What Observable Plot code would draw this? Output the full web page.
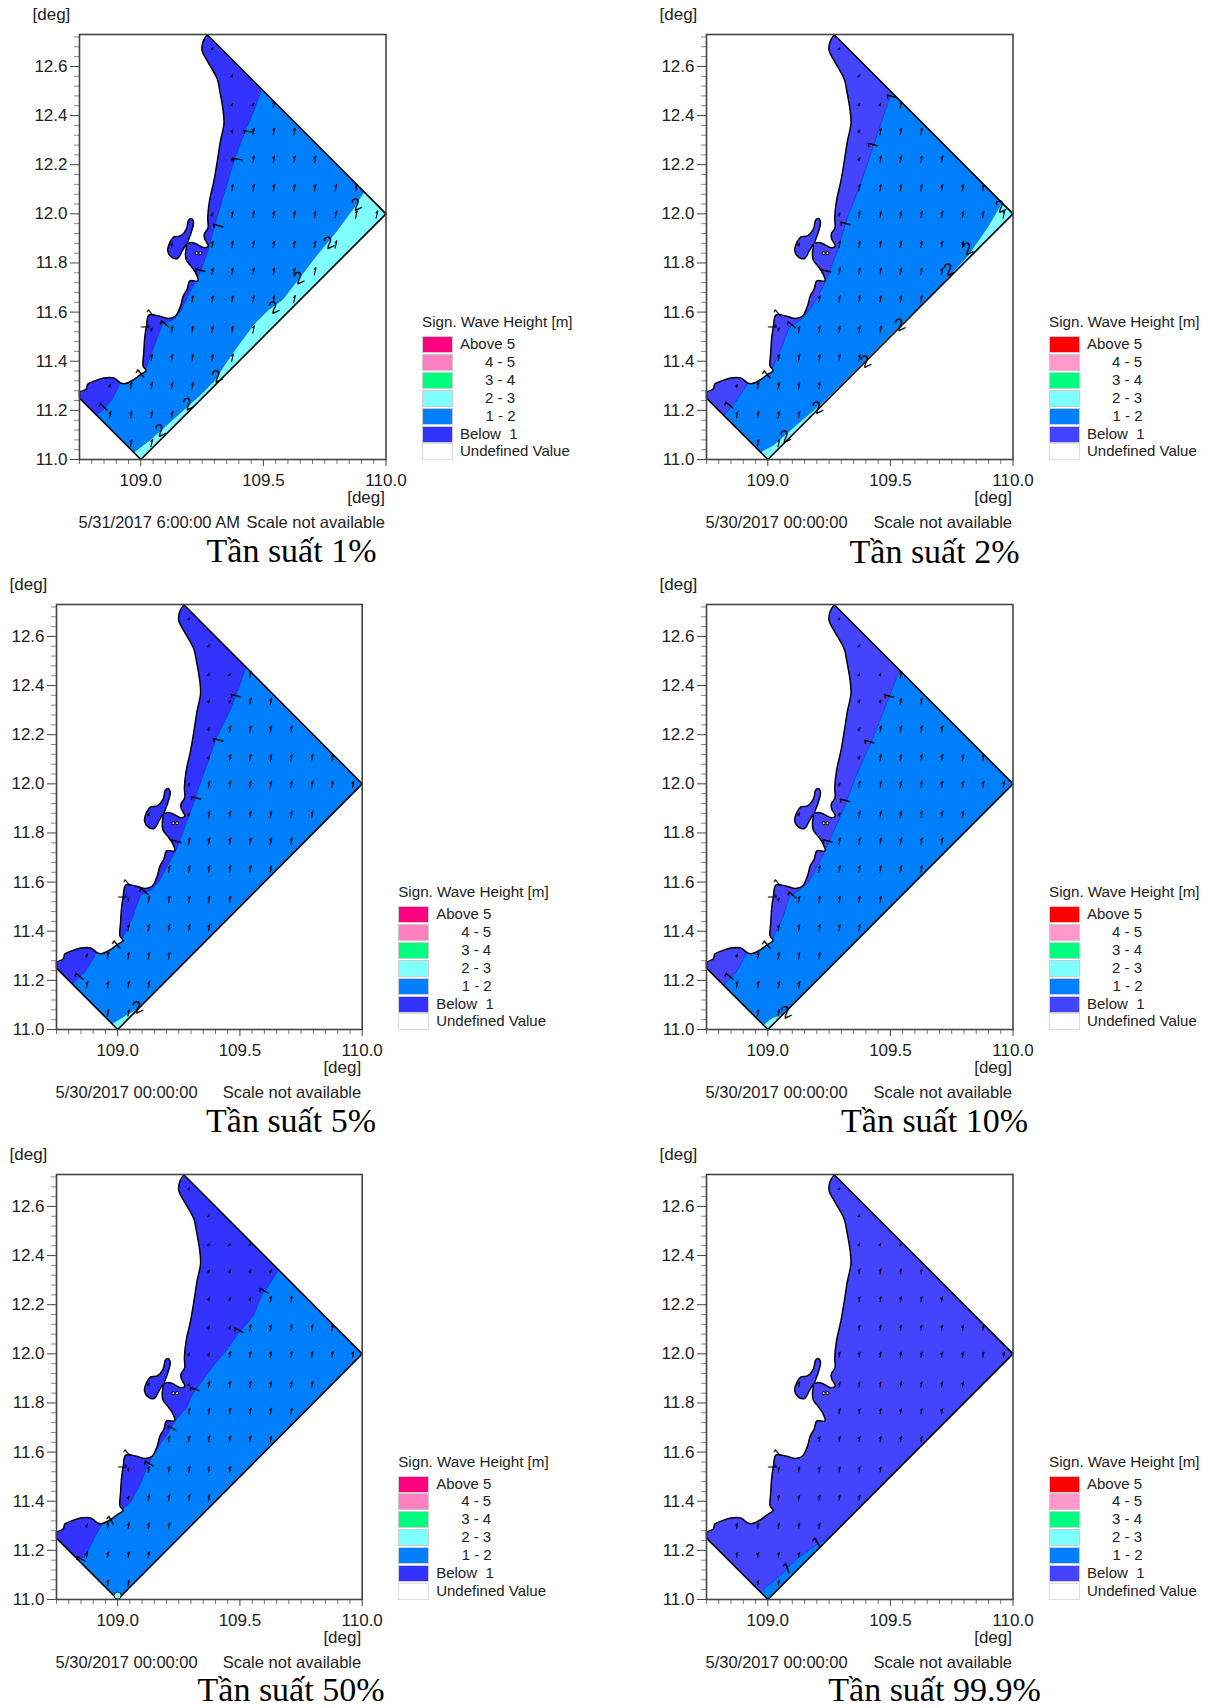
<!DOCTYPE html>
<html><head><meta charset="utf-8">
<script src="https://cdn.jsdelivr.net/npm/d3@7"></script>
<script src="https://cdn.jsdelivr.net/npm/@observablehq/plot@0.6"></script>
<style>
html,body{margin:0;padding:0;background:#fff}
#page{position:relative;width:1211px;height:1708px;overflow:hidden;font-family:"Liberation Sans",Arial,sans-serif;color:#222}
#page .t{position:absolute;white-space:pre;font-size:16.5px;line-height:18px}
#page .cap{position:absolute;white-space:pre;font-family:"Liberation Serif","Times New Roman",serif;font-size:34px;line-height:38px;color:#000;transform:translateX(-50%)}
#page .sw{position:absolute;width:29px;height:15px;border:1px solid #ccc;box-sizing:content-box}
#page svg{position:absolute;overflow:visible}
</style></head><body><div id="page"></div>
<script>
// ---- data (degrees) ----
const coast = [[109.271,12.729],[109.253,12.698],[109.250,12.664],[109.271,12.623],[109.312,12.548],[109.322,12.501],[109.336,12.419],[109.339,12.365],[109.325,12.297],[109.312,12.215],[109.298,12.133],[109.280,12.052],[109.273,11.984],[109.274,11.943],[109.259,11.917],[109.261,11.897],[109.275,11.869],[109.257,11.862],[109.223,11.879],[109.203,11.883],[109.192,11.880],[109.2055,11.924],[109.215,11.965],[109.2055,11.981],[109.195,11.974],[109.186,11.938],[109.162,11.910],[109.135,11.906],[109.118,11.883],[109.110,11.849],[109.128,11.822],[109.151,11.819],[109.169,11.849],[109.186,11.876],[109.182,11.836],[109.186,11.811],[109.207,11.784],[109.223,11.761],[109.233,11.727],[109.200,11.727],[109.189,11.693],[109.173,11.665],[109.162,11.625],[109.142,11.584],[109.114,11.574],[109.074,11.584],[109.033,11.588],[109.023,11.543],[109.016,11.495],[109.012,11.434],[109.0095,11.38],[109.022,11.362],[108.999,11.346],[108.971,11.325],[108.937,11.309],[108.917,11.312],[108.89,11.332],[108.849,11.332],[108.815,11.321],[108.784,11.307],[108.778,11.288],[108.75,11.275]];
const seaEdge = [[108.75,11.275],[108.75,11.25],[109,11],[110,12],[109.271,12.729]];
const seaBlock = [[108.75,11.25],[109,11],[110,12],[109.271,12.729],[108.75,12.729]];
const landCorner = [[108.75,12.73],[109.271,12.73]];
const landEnd = [[108.75,12.73]];
const coastOvershoot = [[109.0,11.40],[108.92,11.36]];
const seaCorners = [[109,11],[110,12]];

const blue1 = [[109.4925,12.5075],[109.461,12.419],[109.42,12.324],[109.38,12.215],[109.339,12.079],[109.298,11.943],[109.278,11.861],[109.244,11.766],[109.21,11.699],[109.162,11.604],[109.135,11.57],[109.087,11.55],[109.067,11.495],[109.039,11.42],[109.019,11.366],...coastOvershoot,[108.917,11.312],[108.883,11.244],[108.849,11.203],[108.819,11.181],...seaCorners];
const blue2 = [[109.505,12.495],[109.46,12.365],[109.426,12.263],[109.378,12.12],[109.324,11.984],[109.283,11.848],[109.242,11.739],[109.208,11.671],[109.167,11.603],[109.133,11.569],[109.086,11.535],[109.052,11.446],[109.018,11.371],...coastOvershoot,[108.916,11.306],[108.868,11.235],[108.82,11.18],...seaCorners];
const blue3 = [[109.524,12.476],[109.494,12.386],[109.46,12.30],[109.405,12.19],[109.371,12.095],[109.337,12.0],[109.303,11.90],[109.276,11.83],[109.242,11.736],[109.201,11.661],[109.167,11.60],[109.133,11.566],[109.093,11.546],[109.059,11.45],[109.018,11.37],...coastOvershoot,[108.913,11.31],[108.868,11.236],[108.815,11.185],...seaCorners];
const blue4 = [[109.537,12.463],[109.507,12.385],[109.48,12.317],[109.44,12.215],[109.399,12.12],[109.351,12.01],[109.31,11.90],[109.269,11.807],[109.235,11.731],[109.20,11.663],[109.167,11.60],[109.133,11.57],[109.088,11.54],[109.059,11.45],[109.018,11.37],...coastOvershoot,[108.913,11.31],[108.872,11.235],[108.82,11.18],...seaCorners];
const blue5 = [[109.657,12.343],[109.623,12.286],[109.589,12.238],[109.555,12.156],[109.487,12.075],[109.439,12.007],[109.392,11.952],[109.337,11.878],[109.303,11.83],[109.283,11.782],[109.235,11.728],[109.208,11.68],[109.174,11.633],[109.14,11.578],[109.12,11.537],[109.093,11.469],[109.052,11.395],[109.018,11.367],...coastOvershoot,[108.936,11.306],[108.902,11.245],[108.868,11.177],[108.84,11.16],...seaCorners];
const blue6 = [[109.27,11.27],[109.201,11.224],[109.12,11.168],[109.059,11.105],[108.97,11.03],[109,11]];

const cyan1 = [[109.91,12.09],[109.869,12.024],[109.788,11.916],[109.72,11.834],[109.652,11.746],[109.578,11.65],[109.522,11.611],[109.461,11.55],[109.40,11.468],[109.352,11.40],[109.298,11.318],[109.244,11.264],[109.176,11.203],[109.107,11.141],[109.039,11.08],[108.971,11.029],...seaCorners];
const cyan2 = [[109.955,12.045],[109.895,11.943],[109.814,11.827],[109.732,11.739],[109.65,11.65],[109.569,11.576],[109.487,11.494],[109.365,11.371],[109.242,11.249],[109.188,11.201],[109.093,11.12],[109.024,11.059],[108.97,11.03],...seaCorners];
const cyan3 = [[108.977,11.023],[109.024,11.052],[109.093,11.093],[109,11]];
const cyan4 = [[108.981,11.019],[109.018,11.047],[109.065,11.065],[109,11]];

const ones1 = [[109.441,12.333,-80],[109.396,12.22,-80],[109.318,11.95,-75],[109.244,11.769,-75],[109.1,11.55,-50],[108.849,11.212,-45],[108.999,11.348,-40]];
const ones2 = [[109.507,12.476,-75],[109.43,12.279,-75],[109.318,11.959,-75],[109.239,11.766,-75],[109.099,11.546,-50],[108.844,11.219,-50],[108.997,11.344,-40]];
const ones3 = [[109.485,12.357,-75],[109.413,12.177,-75],[109.322,11.941,-75],[109.242,11.763,-75],[109.11,11.56,-50],[108.845,11.214,-50],[108.997,11.343,-40]];
const ones4 = [[109.497,12.355,-75],[109.416,12.17,-75],[109.317,11.93,-75],[109.245,11.766,-75],[109.102,11.545,-50],[108.845,11.214,-50],[108.997,11.343,-40]];
const ones5 = [[109.6,12.254,-60],[109.498,12.093,-60],[109.317,11.854,-70],[109.225,11.694,-60],[109.13,11.551,-60],[108.852,11.163,-60],[108.973,11.32,-30]];
const ones6 = [[109.201,11.231,-30],[109.079,11.126,-20]];
const twos1 = [[109.88,12.038],[109.767,11.882],[109.645,11.739],[109.543,11.618],[109.312,11.339],[109.193,11.226],[109.08,11.118]];
const twos2 = [[109.95,12.03],[109.816,11.858],[109.739,11.773],[109.539,11.548],[109.399,11.399],[109.204,11.211],[109.072,11.093]];
const twos3 = [[109.082,11.09]];
const twos4 = [[109.075,11.07]];
const coastMarks = [[109.018,11.541,90],[109.04,11.596,-40]];
const bayIslets = [[109.228,11.84],[109.243,11.84]];
const tinyCircle = [[109,11.016]];

const gridX = [108.875,108.961,109.045,109.128,109.211,109.293,109.374,109.46,109.543,109.627,109.711,109.796,109.879,109.963];
const gridY = [12.672,12.562,12.445,12.335,12.222,12.106,11.997,11.875,11.766,11.653,11.529,11.414,11.30,11.182,11.067];

const xMajor = [109,109.5,110];
const xMinor = [108.75,108.8,108.85,108.9,108.95,109.05,109.1,109.15,109.2,109.25,109.3,109.35,109.4,109.45,109.55,109.6,109.65,109.7,109.75,109.8,109.85,109.9,109.95];
const yMajor = [11,11.2,11.4,11.6,11.8,12,12.2,12.4,12.6];
const yMinor = [11.04,11.08,11.12,11.16,11.24,11.28,11.32,11.36,11.44,11.48,11.52,11.56,11.64,11.68,11.72,11.76,11.84,11.88,11.92,11.96,12.04,12.08,12.12,12.16,12.24,12.28,12.32,12.36,12.44,12.48,12.52,12.56,12.64,12.68,12.72];

const legendLabels = ["Above 5","4 - 5","3 - 4","2 - 3","1 - 2","Below  1","Undefined Value"];
const legendIndent = [0,25,25,25,25.5,0,0];
const paletteA = ["#ff0080","#ff80c0","#00ff80","#80ffff","#0080ff","#3333ff","#ffffff"];
const paletteB = ["#ff0000","#ff99cc","#00ff80","#80ffff","#0080ff","#4444ff","#ffffff"];

const panels = [
 {left:78.5, w:306.5, bottom:459,  pal:paletteA, blue:blue1, cyan:cyan1, ones:ones1, twos:twos1, len:6.5, date:"5/31/2017 6:00:00 AM", cap:"Tần suất 1%", capY:532},
 {left:705.5,w:306.5, bottom:459,  pal:paletteB, blue:blue2, cyan:cyan2, ones:ones2, twos:twos2, len:6.5, date:"5/30/2017 00:00:00", cap:"Tần suất 2%", capY:533},
 {left:55.5, w:305.7, bottom:1029, pal:paletteA, blue:blue3, cyan:cyan3, ones:ones3, twos:twos3, len:6.5, date:"5/30/2017 00:00:00", cap:"Tần suất 5%", capY:1102},
 {left:705.5,w:306.5, bottom:1029, pal:paletteB, blue:blue4, cyan:cyan4, ones:ones4, twos:twos4, len:6.5, date:"5/30/2017 00:00:00", cap:"Tần suất 10%", capY:1102},
 {left:55.5, w:305.7, bottom:1598.5,pal:paletteA, blue:blue5, cyan:null, ones:ones5, twos:[], len:6, date:"5/30/2017 00:00:00", cap:"Tần suất 50%", capY:1671, circle:true},
 {left:705.5,w:306.5, bottom:1598.5,pal:paletteB, blue:blue6, cyan:null, ones:ones6, twos:[], len:5, date:"5/30/2017 00:00:00", cap:"Tần suất 99.9%", capY:1671, allDark:true}
];
const capCenter = [291.5,934.5,291,934.5,291,934.5];

// ---- drawing ----
const page = document.getElementById("page");
const frameH = 425, mL = 50, mR = 32, mT = 8, mB = 36;
const domain = [...coast, ...seaEdge.slice(1)];
const inSea = (x,y,m) => [[0,0],[m,0],[-m,0],[0,m],[0,-m]].every(([a,b]) => d3.polygonContains(domain,[x+a,y+b]));
const grid = gridX.flatMap(x => gridY.map(y => [x,y])).filter(([x,y]) => inSea(x,y,0.008));
const text = (s,x,y,extra={}) => { const d=document.createElement("div"); d.className="t"; d.textContent=s; d.style.left=x+"px"; d.style.top=(y-9)+"px"; Object.assign(d.style,extra); page.appendChild(d); return d; };
// thin wave tick with a small barb at its tip
const tick = {draw(context,l){ context.moveTo(0,0); context.lineTo(0,-l); context.lineTo(-1.3,-l+2.2); }};
const coastCurve = "catmull-rom";

panels.forEach((p,i) => {
  const dark = p.pal[5];
  const land = [...landCorner, ...coast.slice(1), ...landEnd];
  const inBlue = ([x,y]) => d3.polygonContains(p.blue,[x,y]);
  const inCyan = ([x,y]) => p.cyan && d3.polygonContains(p.cyan,[x,y]);
  const isBlue = d => !p.allDark && inBlue(d) && !inCyan(d);
  const isCyan = d => inCyan(d);
  const isDark = d => !isBlue(d) && !isCyan(d);
  const darkLow = p.allDark ? 5 : 3;
  const chart = Plot.plot({
    width: p.w+mL+mR, height: frameH+mT+mB,
    marginLeft: mL, marginRight: mR, marginTop: mT, marginBottom: mB,
    x: {domain:[108.75,110], label:null},
    y: {domain:[11,12.73], label:null},
    style: {fontFamily:'"Liberation Sans",Arial,sans-serif', background:"transparent", overflow:"visible"},
    marks: [
      Plot.line(seaBlock, {fill:dark, stroke:"none"}),
      Plot.line(p.blue, {fill:"#0080ff", stroke:"#1c2fa8", strokeWidth:0.6}),
      p.cyan ? Plot.line(p.cyan, {fill:"#80ffff", stroke:"#1c5fa8", strokeWidth:0.5}) : null,
      Plot.line(land, {fill:"#fff", stroke:"none", curve:coastCurve}),
      Plot.line(coast, {stroke:"#000", strokeWidth:1.5, strokeLinejoin:"round", curve:coastCurve}),
      Plot.line(seaEdge, {stroke:"#000", strokeWidth:1.6}),
      Plot.dot(bayIslets, {r:1.6, fill:"#ccc", stroke:"#000", strokeWidth:1}),
      p.circle ? Plot.dot(tinyCircle, {r:3.5, fill:"#80ffff", stroke:"#000", strokeWidth:0.9}) : null,
      Plot.vector(grid.filter(d => isBlue(d)), {length:p.len, rotate:13, shape:tick, stroke:"#000", strokeWidth:1.1}),
      Plot.vector(grid.filter(d => isCyan(d)), {length:p.len+1, rotate:13, shape:tick, stroke:"#000", strokeWidth:1.1}),
      Plot.vector(grid.filter(d => isDark(d) && d[1] < 12.4), {length:darkLow, rotate:13, shape:tick, stroke:"#000", strokeWidth:1.1}),
      Plot.vector(grid.filter(d => isDark(d) && d[1] >= 12.4), {length:2, rotate:10, shape:tick, stroke:"#000", strokeWidth:1.1}),
      Plot.text(p.ones, {x:d=>d[0], y:d=>d[1], rotate:d=>d[2], text:()=>"1", fontSize:15, fontFamily:"Roboto", fill:"#000"}),
      Plot.text(p.twos, {x:d=>d[0], y:d=>d[1], rotate:()=>-25, text:()=>"2", fontSize:17, fill:"#000"}),
      Plot.text(coastMarks, {x:d=>d[0], y:d=>d[1], rotate:d=>d[2], text:()=>"1", fontSize:12, fontFamily:"Roboto", fill:"#000"}),
      Plot.axisX(xMinor, {tickSize:5, stroke:"#777", fill:"none", label:null}),
      Plot.axisY(yMinor, {tickSize:5, stroke:"#888", fill:"none", label:null}),
      Plot.axisX(xMajor, {tickSize:7, tickPadding:7, stroke:"#444", fontSize:17, fill:"#222", tickFormat:d=>d.toFixed(1), label:null}),
      Plot.axisY(yMajor, {tickSize:9, tickPadding:3, stroke:"#444", fontSize:17, fill:"#222", tickFormat:d=>d.toFixed(1), label:null}),
      Plot.frame({stroke:"#444", strokeWidth:1.6})
    ]
  });
  chart.style.left = (p.left-mL)+"px";
  chart.style.top = (p.bottom-frameH-mT)+"px";
  page.appendChild(chart);

  const top = p.bottom-frameH, right = p.left+p.w;
  text("[deg]", p.left-46, top-19, {fontSize:"17px"});
  const db = text("[deg]", 0, p.bottom+39, {fontSize:"17px"});
  db.style.left = "auto"; db.style.right = (1211-right)+"px";
  text(p.date, p.left, p.bottom+63);
  const s = text("Scale not available", 0, p.bottom+63);
  s.style.left = "auto"; s.style.right = (1211-right)+"px";
  const c = document.createElement("div"); c.className="cap"; c.textContent=p.cap; c.style.left=capCenter[i]+"px"; c.style.top=p.capY+"px"; page.appendChild(c);

  const lx = right+37, ly = p.bottom-137;
  text("Sign. Wave Height [m]", lx, ly, {fontSize:"15.2px"});
  legendLabels.forEach((lab,k) => {
    const sw=document.createElement("div"); sw.className="sw";
    sw.style.left=lx+"px"; sw.style.top=(ly+14+k*17.9)+"px"; sw.style.background=p.pal[k];
    sw.style.borderColor = k===6 ? "#ddd" : "#ccc";
    page.appendChild(sw);
    text(lab, lx+38+legendIndent[k], ly+22+k*17.9, {fontSize:"15px"});
  });
});
</script></body></html>
